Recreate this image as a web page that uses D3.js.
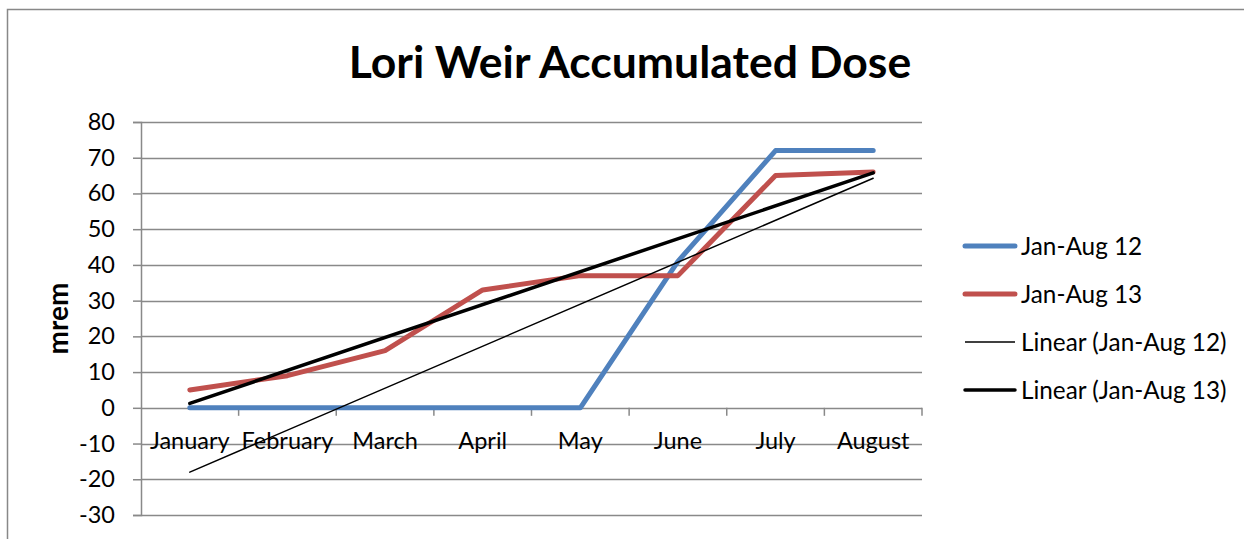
<!DOCTYPE html>
<html>
<head>
<meta charset="utf-8">
<script src="https://cdn.jsdelivr.net/npm/d3@7"></script>
<style>
  body { margin: 0; background: #fff; }
  svg, svg text { font-family: Lato, Carlito, "Open Sans", sans-serif; }
</style>
</head>
<body>
<div id="chart"></div>
<script>
// chart values
var months = ["January", "February", "March", "April", "May", "June", "July", "August"];
var dose12 = [0, 0, 0, 0, 0, 41, 72, 72];
var dose13 = [5, 9, 16, 33, 37, 37, 65, 66];
var yTicks = [-30, -20, -10, 0, 10, 20, 30, 40, 50, 60, 70, 80];

var width = 1244, height = 539;
var margin = {top: 122, right: 322, bottom: 24, left: 141};
var fontSize = 23.5;

var svg = d3.select("#chart").append("svg")
    .attr("width", width)
    .attr("height", height);

// outer chart frame
svg.append("rect")
    .attr("x", 7.5).attr("y", 9.5)
    .attr("width", 1260).attr("height", 560)
    .attr("fill", "none").attr("stroke", "#888").attr("stroke-width", 1.5);

var x = d3.scaleBand()
    .domain(months)
    .range([margin.left, width - margin.right]);

var y = d3.scaleLinear()
    .domain([-30, 80])
    .range([height - margin.bottom, margin.top]);

// gridlines
svg.append("g")
    .selectAll("line")
    .data(yTicks)
    .enter().append("line")
    .attr("x1", margin.left).attr("x2", width - margin.right)
    .attr("y1", function(d) { return Math.round(y(d)) + 0.5; })
    .attr("y2", function(d) { return Math.round(y(d)) + 0.5; })
    .attr("stroke", "#898989").attr("stroke-width", 1.5);

// y axis
var yAxis = svg.append("g")
    .attr("transform", "translate(" + margin.left + ",0)")
    .call(d3.axisLeft(y).tickValues(yTicks).tickSize(8).tickPadding(18).tickFormat(function(d) { return String(d); }));
yAxis.attr("font-family", null);
yAxis.select(".domain").attr("stroke", "#898989").attr("stroke-width", 1.5);
yAxis.selectAll(".tick line").attr("stroke", "#898989").attr("stroke-width", 1.5);
yAxis.selectAll("text").attr("font-size", fontSize).attr("fill", "#000");

// category axis sits on zero
var xAxis = svg.append("g")
    .attr("transform", "translate(0," + (Math.round(y(0)) + 0.5) + ")")
    .call(d3.axisBottom(x).tickSize(0).tickPadding(24));
xAxis.attr("font-family", null);
xAxis.select(".domain").remove();
xAxis.selectAll("text").attr("font-size", fontSize).attr("fill", "#000");

// category boundary ticks
var bounds = months.map(function(m) { return x(m); }).concat([x.range()[1]]);
svg.append("g").selectAll("line")
    .data(bounds.slice(1))
    .enter().append("line")
    .attr("x1", function(d) { return d; }).attr("x2", function(d) { return d; })
    .attr("y1", y(0)).attr("y2", y(0) + 8)
    .attr("stroke", "#898989").attr("stroke-width", 1.5);

// y axis title
svg.append("text")
    .attr("transform", "translate(68," + y(25) + ") rotate(-90)")
    .attr("text-anchor", "middle")
    .attr("font-size", 28).attr("font-weight", "bold")
    .text("mrem");

// title
svg.append("text")
    .attr("x", 630).attr("y", 78)
    .attr("text-anchor", "middle")
    .attr("font-size", 44.5).attr("font-weight", "bold")
    .text("Lori Weir Accumulated Dose");

function cx(i) { return x(months[i]) + x.bandwidth() / 2; }

// least-squares trend, as the spreadsheet draws it
function trend(vals) {
    var n = vals.length;
    var mx = d3.mean(vals, function(d, i) { return i; });
    var my = d3.mean(vals);
    var sxy = d3.sum(vals, function(d, i) { return (i - mx) * (d - my); });
    var sxx = d3.sum(vals, function(d, i) { return (i - mx) * (i - mx); });
    var b = sxy / sxx, a = my - b * mx;
    return [a, a + b * (n - 1)];
}

var line = d3.line()
    .x(function(d, i) { return cx(i); })
    .y(function(d) { return y(d); });

var series = [
    {name: "Jan-Aug 12", values: dose12, color: "#4F81BD", w: 5},
    {name: "Jan-Aug 13", values: dose13, color: "#C0504D", w: 5}
];

series.forEach(function(s) {
    svg.append("path")
        .datum(s.values)
        .attr("d", line)
        .attr("fill", "none")
        .attr("stroke", s.color)
        .attr("stroke-width", s.w)
        .attr("stroke-linejoin", "round")
        .attr("stroke-linecap", "round");
});

var trends = [
    {name: "Linear (Jan-Aug 12)", ends: trend(dose12), w: 1.5},
    {name: "Linear (Jan-Aug 13)", ends: trend(dose13), w: 3.5}
];

trends.forEach(function(t) {
    svg.append("line")
        .attr("x1", cx(0)).attr("x2", cx(months.length - 1))
        .attr("y1", y(t.ends[0])).attr("y2", y(t.ends[1]))
        .attr("stroke", "#000")
        .attr("stroke-width", t.w)
        .attr("stroke-linecap", "round");
});

// legend
var legendItems = [
    {name: series[0].name, color: series[0].color, w: 5},
    {name: series[1].name, color: series[1].color, w: 5},
    {name: trends[0].name, color: "#000", w: 1.5},
    {name: trends[1].name, color: "#000", w: 3.5}
];

var legend = svg.append("g")
    .selectAll("g")
    .data(legendItems)
    .enter().append("g")
    .attr("transform", function(d, i) { return "translate(963," + (246 + i * 48) + ")"; });

legend.append("line")
    .attr("x1", 2).attr("x2", 52)
    .attr("stroke", function(d) { return d.color; })
    .attr("stroke-width", function(d) { return d.w; })
    .attr("stroke-linecap", function(d) { return d.w > 2 ? "round" : "butt"; });

legend.append("text")
    .attr("x", 58).attr("dy", "0.35em")
    .attr("font-size", 24.3)
    .text(function(d) { return d.name; });
</script>
</body>
</html>
